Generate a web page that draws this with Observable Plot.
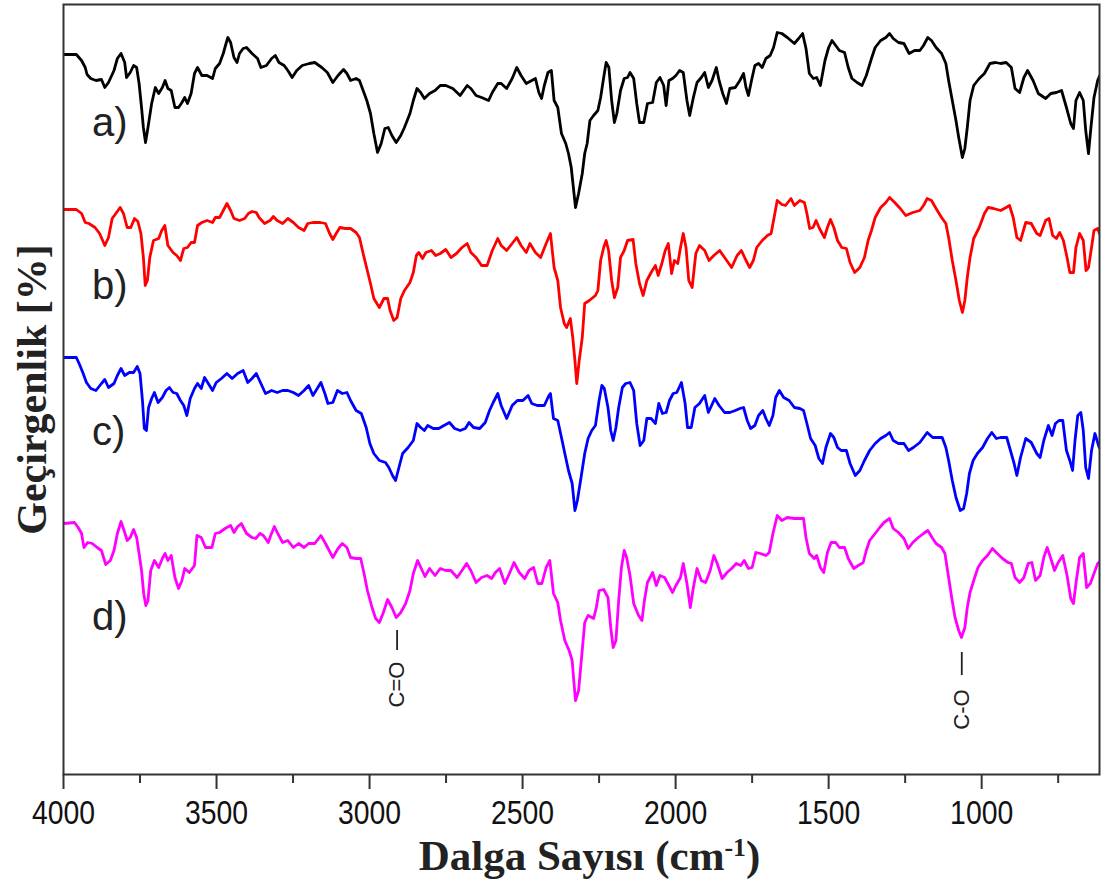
<!DOCTYPE html>
<html><head><meta charset="utf-8">
<script src="https://cdn.jsdelivr.net/npm/d3@7"></script>
<script src="https://cdn.jsdelivr.net/npm/@observablehq/plot@0.6"></script>
<style>body{margin:0;background:#fff}</style>
</head><body><div id="chart"></div>
<script>
// [wavenumber cm-1, transmittance (a.u., offset per spectrum)]
const seriesA = [[3999,720],[3958,720],[3941,714],[3929,707],[3923,700],[3911,696],[3894,694],[3876,695],[3865,687],[3853,692],[3835,704],[3824,716],[3812,721],[3800,712],[3794,697],[3782,702],[3771,709],[3761,707],[3753,691],[3745,667],[3739,647],[3732,632],[3724,647],[3712,671],[3700,687],[3689,681],[3677,687],[3668,694],[3659,686],[3648,684],[3636,667],[3624,667],[3613,672],[3604,677],[3595,671],[3583,681],[3572,701],[3562,707],[3548,699],[3531,699],[3513,696],[3504,706],[3490,711],[3478,721],[3468,732],[3463,737],[3454,732],[3443,717],[3433,712],[3425,721],[3413,726],[3402,727],[3384,721],[3366,716],[3355,707],[3337,709],[3320,716],[3308,719],[3296,712],[3279,709],[3267,704],[3253,697],[3238,704],[3220,709],[3197,711],[3179,712],[3156,707],[3138,702],[3120,692],[3103,699],[3085,705],[3074,701],[3062,694],[3044,696],[3033,694],[3021,684],[3009,674],[2997,661],[2986,641],[2974,622],[2962,631],[2950,646],[2939,647],[2927,639],[2913,632],[2898,639],[2886,647],[2868,661],[2857,674],[2845,686],[2833,682],[2821,676],[2804,681],[2786,684],[2769,689],[2751,689],[2728,686],[2704,679],[2681,689],[2669,686],[2652,679],[2634,677],[2611,674],[2599,682],[2581,691],[2570,691],[2552,686],[2534,696],[2519,707],[2505,699],[2488,691],[2470,694],[2458,696],[2447,682],[2438,676],[2429,689],[2417,702],[2406,704],[2397,674],[2385,667],[2373,641],[2359,631],[2350,621],[2341,607],[2332,581],[2327,567],[2317,581],[2305,601],[2297,621],[2289,631],[2280,654],[2268,659],[2254,664],[2245,677],[2235,697],[2227,712],[2218,707],[2209,674],[2200,652],[2192,661],[2180,684],[2168,696],[2157,697],[2149,702],[2137,696],[2127,671],[2118,652],[2104,652],[2092,671],[2075,672],[2063,692],[2051,697],[2039,689],[2031,669],[2022,694],[2010,696],[1999,699],[1987,704],[1975,702],[1963,674],[1954,659],[1942,677],[1930,692],[1916,697],[1905,702],[1893,687],[1881,694],[1867,707],[1858,694],[1846,681],[1834,671],[1823,686],[1805,687],[1790,694],[1778,701],[1770,687],[1762,679],[1752,694],[1741,709],[1729,711],[1717,707],[1705,716],[1691,719],[1680,727],[1668,742],[1653,741],[1635,737],[1612,731],[1598,736],[1585,741],[1574,726],[1563,701],[1550,696],[1539,697],[1527,689],[1512,714],[1500,727],[1489,734],[1477,729],[1465,724],[1448,722],[1436,707],[1424,696],[1407,692],[1391,689],[1377,699],[1360,716],[1348,727],[1330,734],[1313,737],[1301,741],[1289,736],[1272,732],[1254,731],[1237,721],[1219,724],[1202,724],[1190,729],[1176,737],[1164,734],[1149,727],[1131,721],[1117,711],[1108,694],[1096,674],[1084,654],[1075,637],[1063,617],[1055,626],[1047,647],[1038,674],[1026,689],[1008,696],[991,701],[973,711],[955,712],[938,711],[920,712],[903,707],[891,686],[876,682],[862,697],[850,704],[832,694],[815,681],[791,676],[774,681],[756,682],[739,684],[723,667],[709,651],[700,646],[692,674],[680,682],[668,674],[660,644],[651,621],[643,647],[633,677],[621,694],[610,702]];

const seriesB = [[3999,565],[3958,565],[3941,561],[3929,552],[3917,551],[3897,547],[3882,541],[3865,529],[3853,537],[3841,556],[3829,561],[3815,567],[3804,561],[3792,547],[3780,547],[3768,556],[3757,553],[3747,541],[3739,517],[3733,489],[3726,494],[3718,517],[3706,534],[3689,536],[3679,544],[3669,549],[3659,529],[3642,522],[3630,519],[3618,514],[3607,526],[3595,527],[3583,532],[3572,532],[3562,549],[3548,552],[3531,554],[3513,552],[3504,557],[3490,557],[3478,564],[3466,571],[3454,564],[3443,556],[3425,554],[3408,556],[3396,561],[3384,563],[3370,562],[3361,557],[3343,551],[3325,554],[3314,558],[3302,554],[3284,551],[3267,556],[3249,552],[3232,547],[3214,544],[3202,551],[3185,552],[3161,552],[3144,551],[3132,542],[3120,535],[3109,541],[3097,547],[3079,546],[3062,546],[3044,542],[3033,537],[3021,521],[3009,506],[2997,491],[2986,476],[2968,467],[2953,476],[2941,476],[2933,464],[2921,454],[2910,457],[2898,476],[2886,484],[2868,492],[2857,502],[2847,519],[2839,522],[2827,516],[2816,522],[2798,524],[2784,519],[2769,521],[2751,525],[2734,517],[2716,521],[2698,527],[2681,531],[2669,522],[2652,517],[2634,509],[2616,509],[2599,524],[2581,536],[2570,529],[2552,524],[2534,531],[2519,537],[2505,529],[2488,522],[2476,531],[2458,522],[2441,517],[2423,531],[2409,541],[2397,507],[2385,494],[2376,467],[2364,451],[2356,447],[2344,456],[2336,437],[2329,414],[2323,391],[2315,414],[2305,437],[2297,471],[2282,474],[2262,479],[2254,484],[2245,514],[2235,527],[2227,534],[2219,524],[2209,494],[2200,477],[2189,487],[2180,517],[2168,524],[2157,534],[2139,535],[2130,511],[2118,491],[2106,479],[2094,494],[2080,502],[2066,509],[2057,499],[2045,511],[2034,524],[2024,531],[2013,501],[2004,514],[1993,511],[1984,527],[1975,541],[1966,527],[1957,494],[1946,487],[1934,521],[1922,529],[1905,524],[1891,514],[1875,519],[1856,524],[1840,517],[1817,507],[1799,519],[1785,524],[1770,514],[1758,507],[1746,514],[1735,527],[1717,534],[1700,539],[1688,541],[1680,554],[1668,574],[1653,570],[1641,569],[1623,576],[1612,569],[1594,574],[1579,572],[1571,561],[1562,546],[1551,547],[1541,554],[1530,546],[1514,537],[1504,547],[1494,555],[1483,547],[1471,534],[1457,527],[1442,526],[1430,512],[1415,502],[1398,507],[1383,517],[1371,534],[1360,544],[1348,557],[1330,567],[1313,572],[1301,577],[1284,572],[1266,566],[1248,559],[1225,562],[1202,564],[1190,569],[1178,576],[1164,574],[1149,566],[1131,557],[1117,551],[1108,537],[1096,514],[1084,494],[1073,474],[1063,462],[1055,474],[1047,497],[1038,517],[1026,536],[1008,547],[991,561],[979,567],[961,566],[938,564],[920,567],[909,569],[897,557],[885,537],[873,534],[856,552],[838,551],[820,541],[809,539],[791,554],[780,556],[768,539],[756,536],[745,542],[733,534],[721,517],[712,502],[700,502],[692,527],[680,541],[668,534],[659,504],[651,507],[641,527],[633,544],[621,546],[610,537]];

const seriesC = [[3999,417],[3958,417],[3949,411],[3937,402],[3925,392],[3911,386],[3894,384],[3876,391],[3865,395],[3853,387],[3835,391],[3824,399],[3812,406],[3800,399],[3785,402],[3771,402],[3759,408],[3750,401],[3742,374],[3736,346],[3729,344],[3722,367],[3712,376],[3703,382],[3691,372],[3677,377],[3665,384],[3654,387],[3642,382],[3630,381],[3618,374],[3607,369],[3597,359],[3586,376],[3572,386],[3562,391],[3550,386],[3539,397],[3527,391],[3513,384],[3501,392],[3484,396],[3466,401],[3449,396],[3431,401],[3413,404],[3398,392],[3384,396],[3370,401],[3355,391],[3340,381],[3320,384],[3302,382],[3284,384],[3267,384],[3249,382],[3232,379],[3214,384],[3199,389],[3185,379],[3171,386],[3159,392],[3146,381],[3136,371],[3120,372],[3105,384],[3089,381],[3074,382],[3062,374],[3044,364],[3027,361],[3011,347],[2999,331],[2986,321],[2968,314],[2948,312],[2937,307],[2925,299],[2915,294],[2904,307],[2892,321],[2874,327],[2857,334],[2845,351],[2833,347],[2821,344],[2810,349],[2792,346],[2774,346],[2757,349],[2739,352],[2722,346],[2704,344],[2687,346],[2675,352],[2660,347],[2640,346],[2622,352],[2608,364],[2596,372],[2581,381],[2570,369],[2552,356],[2534,369],[2517,374],[2499,374],[2482,379],[2470,371],[2452,369],[2429,369],[2414,379],[2409,381],[2399,356],[2385,354],[2373,337],[2362,321],[2350,304],[2338,291],[2329,264],[2321,274],[2309,297],[2297,321],[2286,336],[2274,344],[2262,349],[2250,374],[2241,389],[2233,386],[2221,367],[2212,344],[2204,334],[2195,347],[2186,367],[2174,387],[2163,391],[2149,392],[2137,384],[2127,351],[2116,329],[2104,334],[2094,356],[2080,356],[2066,351],[2055,371],[2043,361],[2031,362],[2020,374],[2008,381],[1996,382],[1981,392],[1969,371],[1961,347],[1949,347],[1937,367],[1922,371],[1905,379],[1893,362],[1872,376],[1858,369],[1840,362],[1823,362],[1805,364],[1790,366],[1778,367],[1766,354],[1755,346],[1741,349],[1729,359],[1715,364],[1705,356],[1694,349],[1682,359],[1673,377],[1661,384],[1647,377],[1629,374],[1612,367],[1594,366],[1582,364],[1571,351],[1559,336],[1544,329],[1532,316],[1520,311],[1509,327],[1494,341],[1483,337],[1471,327],[1459,324],[1442,324],[1430,311],[1413,299],[1398,304],[1383,314],[1366,324],[1348,331],[1330,336],[1313,339],[1301,342],[1289,334],[1272,331],[1254,331],[1239,324],[1223,327],[1202,332],[1178,342],[1160,337],[1143,337],[1129,337],[1117,327],[1108,314],[1096,294],[1084,277],[1070,264],[1059,266],[1049,281],[1040,301],[1028,314],[1014,321],[997,327],[981,336],[967,342],[952,336],[938,337],[918,337],[906,324],[894,311],[885,299],[873,317],[856,336],[838,332],[820,321],[809,317],[797,334],[782,349],[770,339],[759,351],[747,354],[735,354],[723,324],[712,314],[703,304],[695,334],[686,359],[676,362],[668,344],[660,307],[651,296],[641,324],[630,341],[616,327],[610,331]];

const seriesD = [[3999,251],[3964,252],[3952,247],[3941,241],[3933,227],[3921,232],[3906,231],[3890,227],[3876,224],[3862,210],[3847,214],[3835,224],[3824,241],[3812,253],[3800,242],[3792,234],[3782,237],[3771,245],[3761,237],[3753,221],[3745,204],[3738,181],[3731,169],[3724,174],[3715,204],[3703,214],[3689,207],[3677,216],[3668,221],[3659,214],[3648,219],[3636,197],[3624,186],[3613,194],[3604,206],[3589,202],[3572,209],[3564,239],[3550,237],[3536,227],[3515,227],[3504,241],[3490,242],[3472,246],[3454,249],[3443,242],[3431,248],[3419,251],[3402,241],[3384,237],[3372,236],[3358,241],[3347,239],[3331,232],[3323,239],[3311,248],[3300,241],[3284,232],[3267,234],[3249,227],[3232,231],[3214,227],[3199,231],[3179,231],[3159,239],[3144,231],[3132,224],[3120,217],[3103,226],[3089,231],[3074,227],[3062,217],[3044,216],[3029,216],[3018,201],[3007,184],[2992,167],[2980,156],[2968,152],[2956,161],[2941,175],[2927,167],[2913,157],[2898,162],[2882,171],[2868,184],[2857,201],[2843,214],[2831,206],[2819,198],[2804,206],[2786,199],[2769,206],[2751,204],[2734,204],[2714,197],[2698,204],[2683,211],[2669,204],[2652,192],[2634,197],[2616,199],[2601,196],[2589,202],[2575,206],[2558,191],[2543,201],[2528,212],[2511,202],[2493,196],[2479,204],[2464,207],[2450,191],[2437,191],[2423,207],[2411,214],[2399,181],[2385,172],[2376,154],[2362,134],[2348,124],[2338,114],[2332,91],[2327,74],[2317,84],[2309,111],[2297,152],[2286,159],[2268,156],[2259,167],[2250,184],[2235,185],[2221,177],[2212,147],[2204,127],[2195,134],[2186,174],[2177,207],[2168,224],[2160,217],[2149,199],[2137,171],[2121,159],[2110,154],[2102,174],[2092,192],[2075,202],[2063,189],[2051,199],[2036,197],[2022,189],[2010,182],[1999,189],[1984,197],[1975,211],[1963,191],[1952,167],[1942,187],[1930,206],[1916,194],[1902,192],[1887,204],[1875,219],[1864,211],[1848,196],[1832,202],[1817,206],[1802,211],[1787,209],[1776,214],[1762,206],[1750,207],[1738,222],[1723,221],[1705,219],[1694,222],[1682,241],[1668,259],[1653,254],[1635,257],[1612,256],[1582,256],[1574,237],[1563,221],[1547,216],[1539,219],[1527,207],[1516,202],[1504,222],[1492,232],[1477,232],[1465,227],[1448,227],[1436,216],[1418,206],[1403,209],[1387,212],[1377,224],[1366,234],[1348,241],[1333,247],[1319,252],[1301,256],[1289,246],[1272,242],[1254,236],[1240,226],[1225,232],[1207,237],[1190,241],[1176,244],[1160,236],[1149,231],[1131,227],[1120,221],[1110,201],[1098,177],[1087,157],[1075,144],[1066,137],[1055,147],[1047,167],[1038,182],[1026,194],[1012,207],[997,214],[981,219],[965,226],[949,221],[932,216],[914,212],[903,211],[891,197],[876,192],[862,197],[848,211],[836,212],[824,194],[809,199],[797,217],[786,227],[774,216],[762,204],[750,212],[735,219],[721,199],[709,176],[700,171],[692,191],[680,217],[668,221],[657,187],[645,191],[633,201],[621,211],[610,214]];

const seriesNames = ["a)", "b)", "c)", "d)"];
const seriesColors = ["#000000", "#ff0000", "#0000ff", "#ff00ff"];
const labelY = [651, 488, 342, 157];
const majorTicks = [4000, 3500, 3000, 2500, 2000, 1500, 1000];
const minorTicks = [3750, 3250, 2750, 2250, 1750, 1250, 750];
const bandNames = ["C=O", "C-O"];
const bandX = [2910, 1065];
const bandMarkY = [[124, 144], [99, 122]];
const bandTextY = [90, 65];

const allSeries = [seriesA, seriesB, seriesC, seriesD];
const lineData = allSeries.flatMap((s, i) => s.map(([w, t]) => ({w, t, k: seriesNames[i]})));
const labelData = seriesNames.map((n, i) => ({n, w: 3907, t: labelY[i]}));
const bandData = bandNames.map((n, i) => ({n, w: bandX[i], y1: bandMarkY[i][0], y2: bandMarkY[i][1], ty: bandTextY[i]}));

const sans = "'Liberation Sans', Arial, sans-serif";
const serif = "'Liberation Serif', 'Times New Roman', serif";

const chart = Plot.plot({
  width: 1110, height: 888,
  marginLeft: 63, marginRight: 11, marginTop: 4, marginBottom: 114,
  style: {background: "#fff", fontFamily: sans},
  x: {domain: [4000, 615]},
  y: {domain: [0, 770], axis: null},
  color: {domain: seriesNames, range: seriesColors},
  marks: [
    Plot.line(lineData, {x: "w", y: "t", z: "k", stroke: "k", strokeWidth: 2.8, clip: true}),
    Plot.frame({stroke: "#333", strokeWidth: 2}),
    Plot.axisX({ticks: majorTicks, tickSize: 15, tickPadding: 11, tickFormat: d => String(d), fontSize: 33, stroke: "#333", strokeWidth: 2, fill: "#111", label: null, className: "majax"}),
    Plot.axisX({ticks: minorTicks, tickSize: 9, tickFormat: () => "", stroke: "#333", strokeWidth: 2, label: null}),
    Plot.text(labelData, {x: "w", y: "t", text: "n", textAnchor: "start", lineAnchor: "middle", fontSize: 40, fill: "#222"}),
    Plot.ruleX(bandData, {x: "w", y1: "y1", y2: "y2", stroke: "#222", strokeWidth: 1.8}),
    Plot.text(bandData, {x: "w", y: "ty", text: "n", rotate: -90, fontSize: 22, fill: "#222"}),
    Plot.text(["Geçirgenlik [%]"], {frameAnchor: "left", dx: -31, rotate: -90, textAnchor: "middle", lineAnchor: "middle", fontSize: 42, fontWeight: "bold", fontFamily: serif, fill: "#222"}),
    Plot.text(["Dalga Sayısı (cm"], {frameAnchor: "bottom", dy: 95, dx: 8, lineAnchor: "bottom", fontSize: 43, fontWeight: "bold", fontFamily: serif, fill: "#222", className: "xtitle"})
  ]
});
document.getElementById("chart").appendChild(chart);
// condensed tick labels (narrow face)
d3.select(chart).selectAll("g.majax text").each(function() {
  const t = d3.select(this);
  const tr = t.attr("transform") || "";
  t.attr("transform", tr + " scale(0.86,1)");
});
// superscript in x title
const xt = d3.select(chart).select("g.xtitle text");
xt.append("tspan").attr("baseline-shift", "super").attr("font-size", "60%").text("-1");
xt.append("tspan").text(")");
</script>
</body></html>
